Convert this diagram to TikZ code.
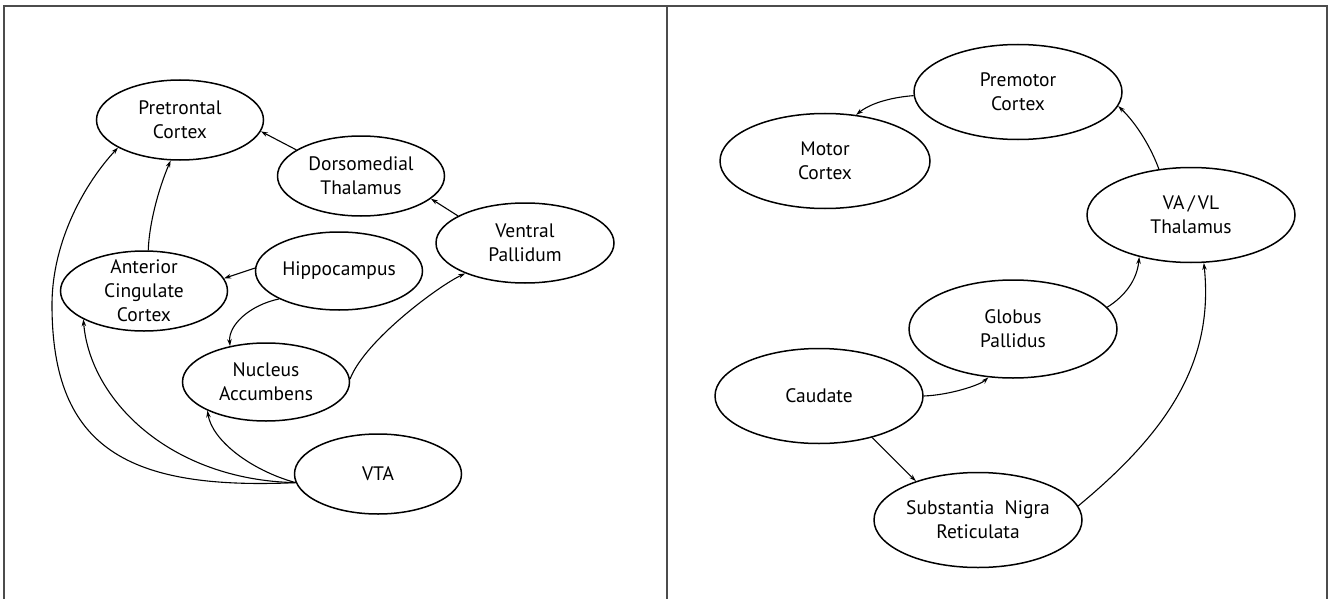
\documentclass[tikz,border=0pt]{standalone}
\usepackage{fontspec}
\setmainfont{PT Sans}
\usetikzlibrary{shapes.geometric,arrows.meta}
\begin{document}
\begin{tikzpicture}[x=1pt,y=-1pt,
  region/.style={ellipse,draw,line width=1.5pt,inner xsep=0pt,inner ysep=-13pt,align=center,font=\fontsize{19.5}{24}\selectfont},
  leftnode/.style={region,minimum width=167pt,minimum height=80pt},
  rightnode/.style={region,minimum width=208pt,minimum height=95pt},
  conn/.style={line width=1.1pt,-{Stealth[length=7pt,width=4.5pt]}},
  framestyle/.style={line width=1.6pt,draw=black!70}]
\useasboundingbox (0,0) rectangle (1332,599);
\fill[white] (0,0) rectangle (1332,599);
% frame
\draw[framestyle] (4,599) -- (4,6) -- (1327,6) -- (1327,599);
\draw[framestyle] (667,6) -- (667,599);

% left panel
\node[leftnode] (pc)  at (180,120) {Pretrontal\\Cortex};
\node[leftnode] (dt)  at (361,176) {Dorsomedial\\Thalamus};
\node[leftnode,minimum width=178pt] (vp) at (525,243) {Ventral\\Pallidum};
\node[leftnode,minimum height=78pt] (hc) at (339,271) {Hippocampus};
\node[leftnode] (acc) at (144,291) {Anterior\\Cingulate\\Cortex};
\node[leftnode,minimum height=78pt] (na) at (266,382) {Nucleus\\Accumbens};
\node[leftnode] (vta) at (378,474) {VTA};

\draw[conn] (dt.158) -- (pc.352);
\draw[conn] (vp.158) -- (dt.342);
\draw[conn] (acc.84) .. controls (149,225) and (158,190) .. (pc.257);
\draw[conn] (hc.178) -- (acc.9);
\draw[conn] (hc.205) .. controls (250,305) and (228,325) .. (na.135);
\draw[conn] (na.2) .. controls (365,340) and (440,285) .. (vp.207);
\draw[conn] (vta.186) .. controls (250,470) and (212,440) .. (na.206);
\draw[conn] (vta.186) .. controls (170,480) and (90,400) .. (acc.205);
\draw[conn] (vta.186) .. controls (130,490) and (52,450) .. (52,305)
  .. controls (52,240) and (86,182) .. (pc.204);

% right panel
\node[rightnode] (prem) at (1018,92)  {Premotor\\Cortex};
\node[rightnode,minimum width=210pt] (mot) at (825,161) {Motor\\Cortex};
\node[rightnode] (vavl) at (1191,215) {VA\,/\,VL\\Thalamus};
\node[rightnode,minimum height=98pt] (gp) at (1013,329) {Globus\\Pallidus};
\node[rightnode] (cau) at (819,396) {Caudate};
\node[rightnode] (snr) at (978,520) {Substantia\ \ Nigra\\Reticulata};

\draw[conn] (prem.182) .. controls (895,97) and (872,102) .. (mot.56);
\draw[conn] (vavl.125) .. controls (1152,150) and (1138,125) .. (prem.352);
\draw[conn] (gp.13) .. controls (1125,296) and (1137,280) .. (vavl.219);
\draw[conn] (snr.8) .. controls (1170,430) and (1214,360) .. (vavl.285);
\draw[conn] (cau.0) .. controls (950,395) and (980,385) .. (gp.243);
\draw[conn] (cau.322) -- (snr.148);
\end{tikzpicture}
\end{document}
